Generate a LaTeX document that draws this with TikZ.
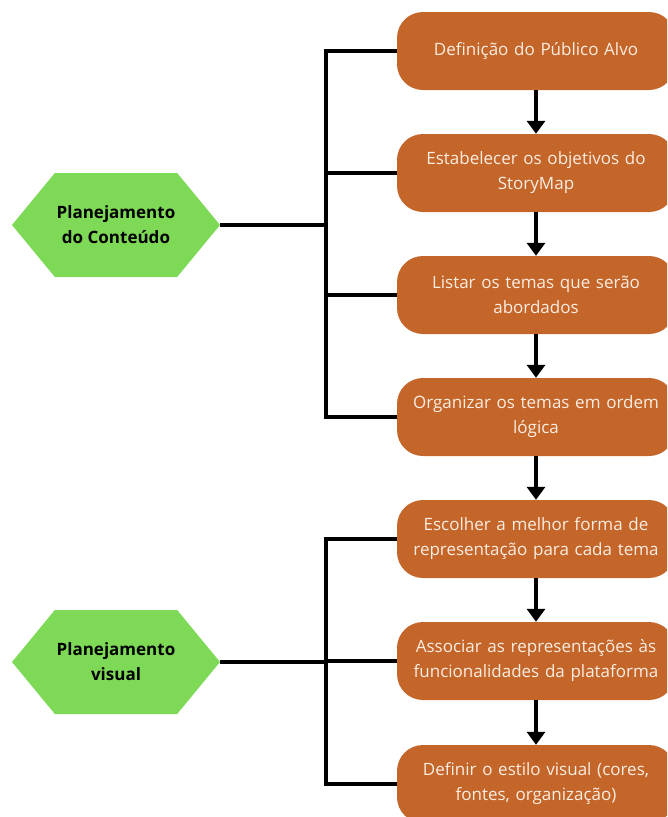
\documentclass[tikz,border=0pt]{standalone}
\usepackage{fontspec}
\setmainfont{Open Sans}
\usepackage{xcolor}
\usetikzlibrary{arrows.meta, shapes.symbols, positioning}

\definecolor{laranja}{HTML}{C4652A}
\definecolor{verde}{HTML}{7ED957}
\definecolor{creme}{HTML}{FCEEE2}

\begin{document}
\begin{tikzpicture}[x=1pt, y=-1pt,
    etapa/.style={rectangle, rounded corners=26pt, fill=laranja, text=creme,
        minimum width=278pt, minimum height=78pt, text width=272pt, align=center,
        inner sep=0pt, font=\fontsize{17}{25}\selectfont},
    fase/.style={signal, signal to=west and east, signal pointer angle=101,
        fill=verde, minimum width=208pt, minimum height=104pt, align=center,
        inner sep=0pt, font=\bfseries\fontsize{17}{25}\selectfont},
    liga/.style={line width=4pt},
    seta/.style={line width=4pt, -{Triangle[width=18pt,length=13pt]}}]
    \useasboundingbox (0,0) rectangle (667,817);
    \clip (0,0) rectangle (667,817);

    % Etapas (caixas laranja)
    \node[etapa] (b1) at (536,51)  {Definição do Público Alvo};
    \node[etapa] (b2) at (536,173) {Estabelecer os objetivos do\\StoryMap};
    \node[etapa] (b3) at (536,295) {Listar os temas que serão\\abordados};
    \node[etapa] (b4) at (536,417) {Organizar os temas em ordem\\lógica};
    \node[etapa] (b5) at (536,539) {Escolher a melhor forma de\\representação para cada tema};
    \node[etapa] (b6) at (536,661) {Associar as representações às\\funcionalidades da plataforma};
    \node[etapa] (b7) at (536,784) {Definir o estilo visual (cores,\\fontes, organização)};

    % Fases (hexágonos verdes)
    \node[fase] (h1) at (116,225) {Planejamento\\do Conteúdo};
    \node[fase] (h2) at (116,662) {Planejamento\\visual};

    % Junções das chaves
    \coordinate (j1) at (326,225);
    \coordinate (j2) at (326,662);

    % Ligações
    \draw[liga] (h1.east) -- (j1);
    \foreach \b in {b1,b2,b3,b4}
        \draw[liga] (\b.west) -| (j1);
    \draw[liga] (h2.east) -- (j2);
    \foreach \b in {b5,b6,b7}
        \draw[liga] (\b.west) -| (j2);

    % Setas entre etapas
    \foreach \a/\b in {b1/b2,b2/b3,b3/b4,b4/b5,b5/b6,b6/b7}
        \draw[seta] (\a.south) -- (\b.north);
\end{tikzpicture}
\end{document}
